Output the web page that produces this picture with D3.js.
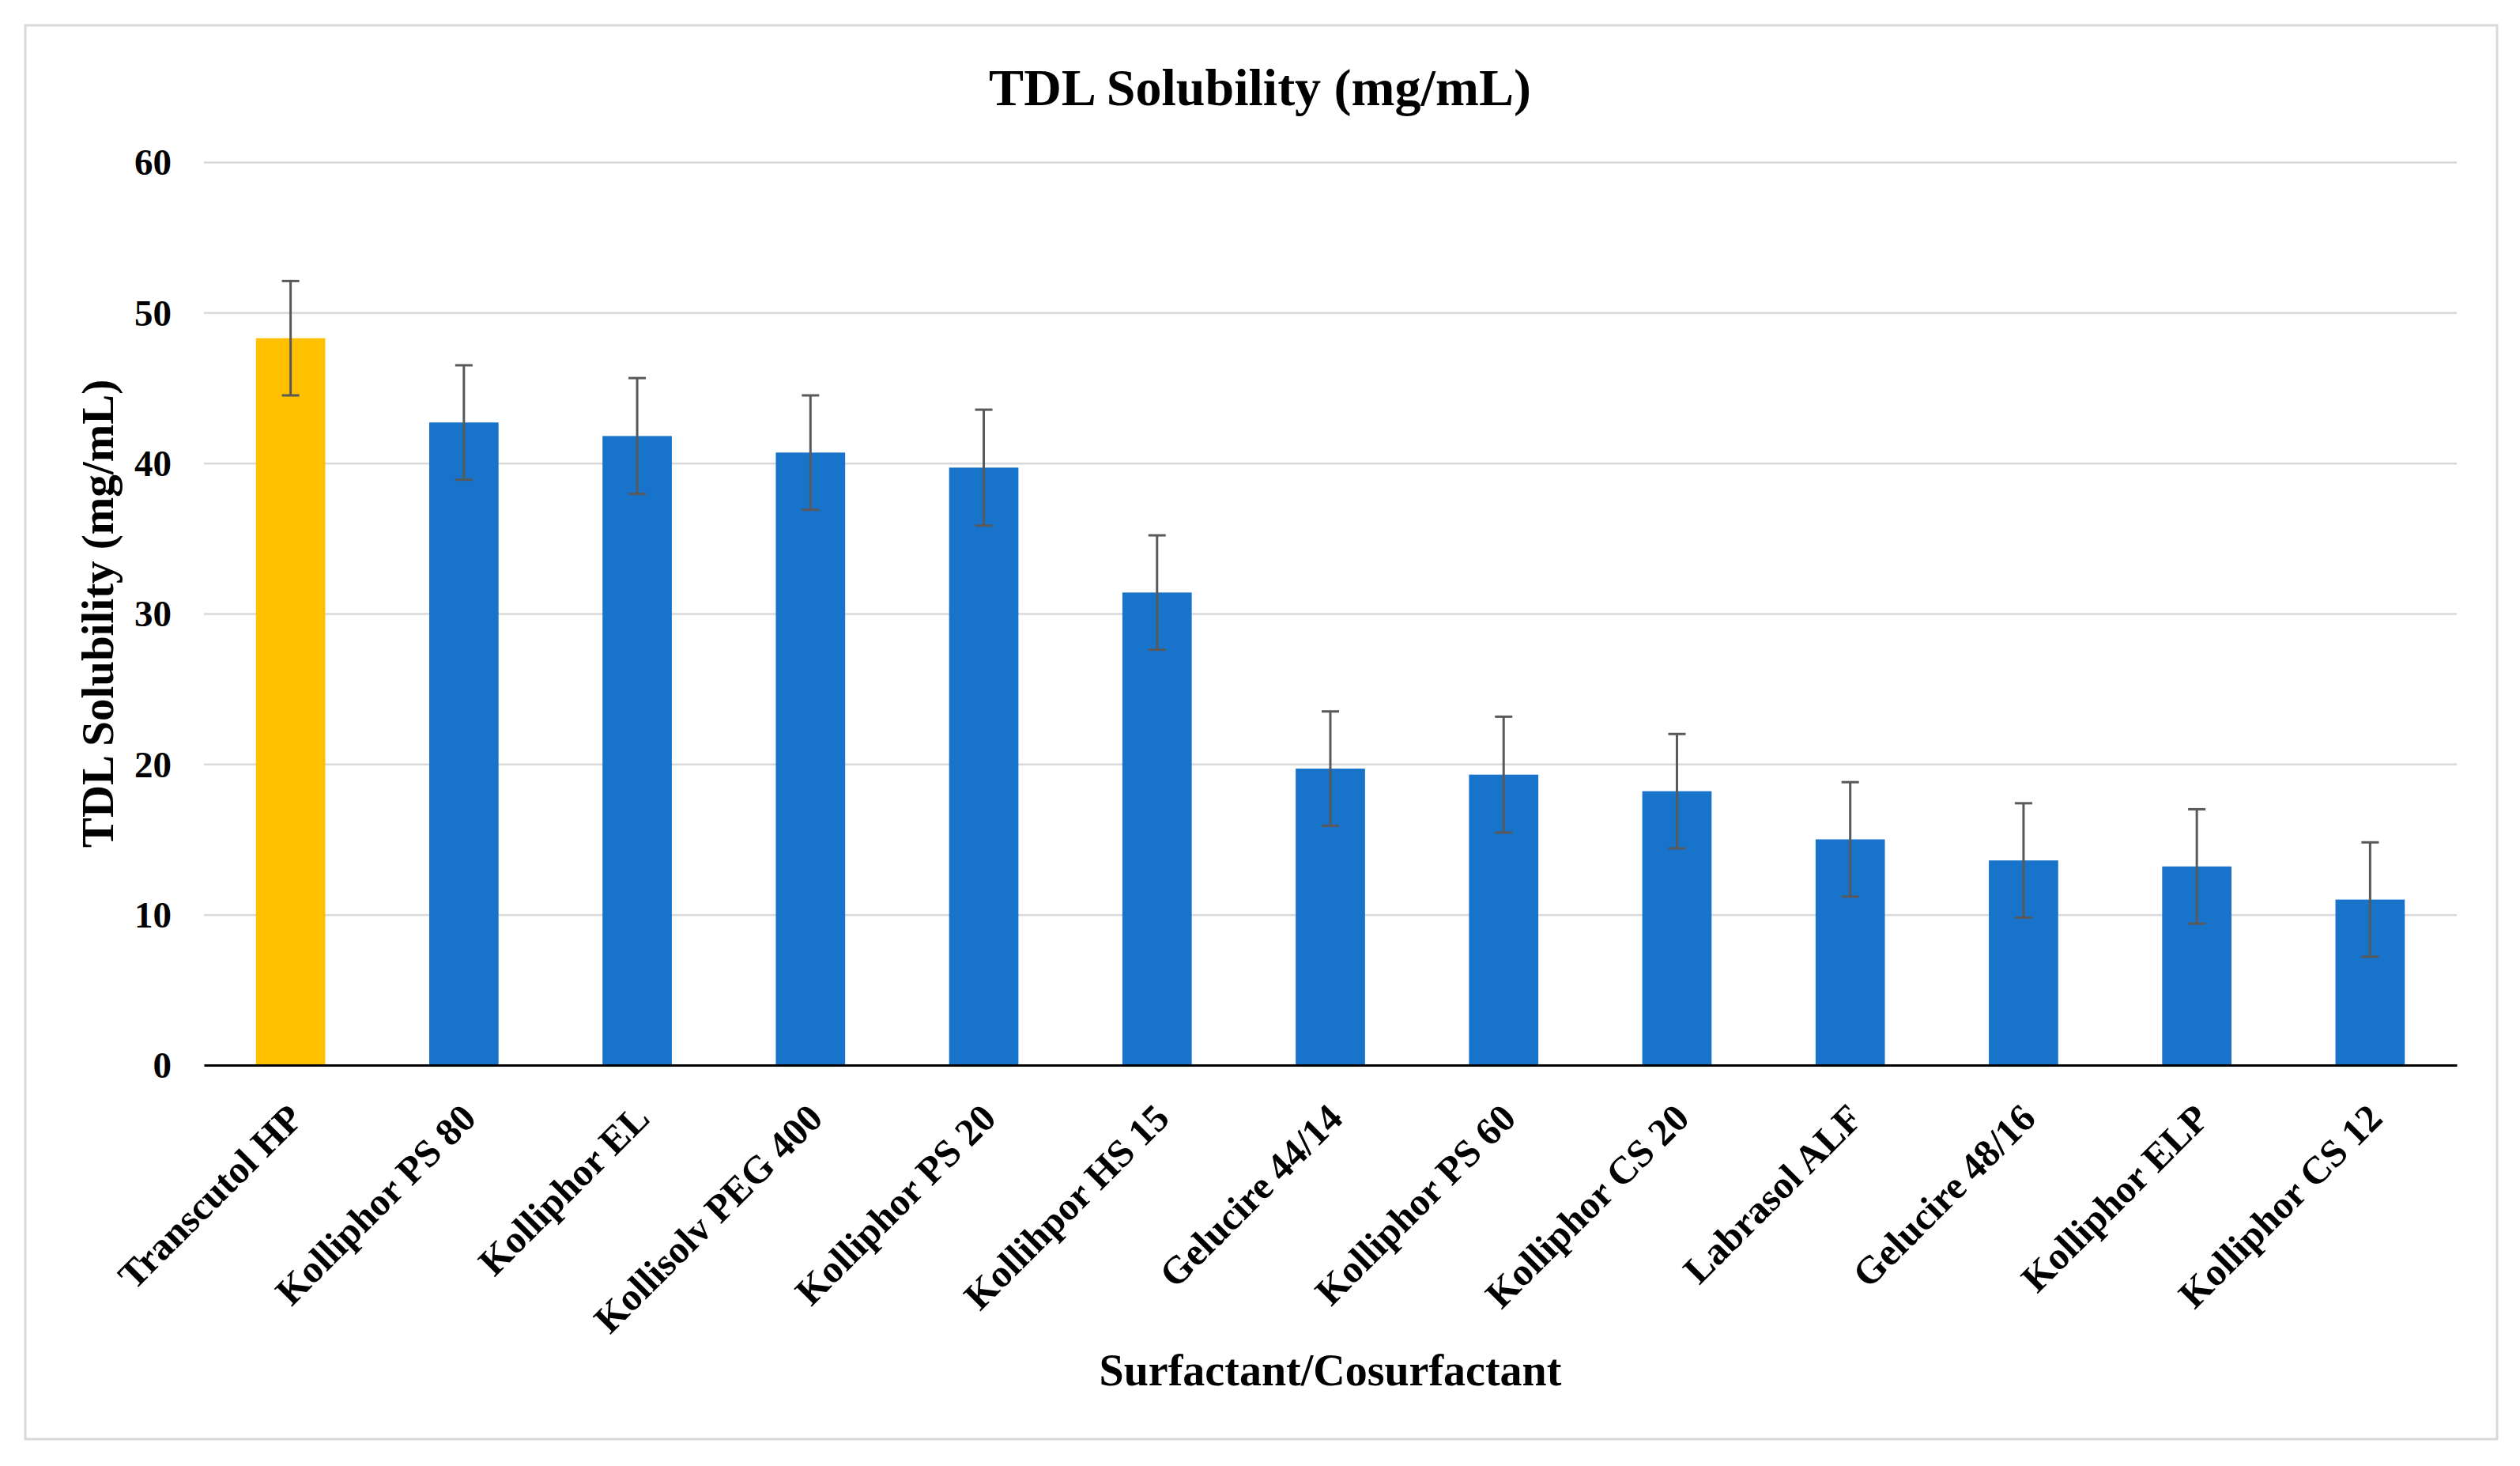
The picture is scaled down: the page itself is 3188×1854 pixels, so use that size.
<!DOCTYPE html>
<html>
<head>
<meta charset="utf-8">
<script src="https://cdn.jsdelivr.net/npm/d3@7"></script>
<style>
  body { margin: 0; background: #fff; }
  text { font-family: "Liberation Serif", "Times New Roman", serif; font-weight: bold; fill: #000; }
</style>
</head>
<body>
<svg id="chart"></svg>
<script>
const categories = [
  "Transcutol HP", "Kolliphor PS 80", "Kolliphor EL", "Kollisolv PEG 400",
  "Kolliphor PS 20", "Kollihpor HS 15", "Gelucire 44/14", "Kolliphor PS 60",
  "Kolliphor CS 20", "Labrasol ALF", "Gelucire 48/16", "Kolliphor ELP", "Kolliphor CS 12"
]
const solubility = [48.3, 42.7, 41.8, 40.7, 39.7, 31.4, 19.7, 19.3, 18.2, 15.0, 13.6, 13.2, 11.0]
const errors = [3.8, 3.8, 3.85, 3.8, 3.85, 3.8, 3.8, 3.85, 3.8, 3.8, 3.8, 3.8, 3.8]
const yTicks = [0, 10, 20, 30, 40, 50, 60]

const width = 3188, height = 1854
const margin = { top: 205, right: 80, bottom: 507, left: 258 }

const svg = d3.select("#chart")
  .attr("width", width)
  .attr("height", height)

// outer frame
svg.append("rect")
  .attr("x", 32).attr("y", 32)
  .attr("width", 3127).attr("height", 1788)
  .attr("fill", "#fff")
  .attr("stroke", "#d9d9d9")
  .attr("stroke-width", 3)

const x = d3.scaleBand()
  .domain(categories)
  .range([margin.left, width - margin.right])
  .paddingInner(0.6)
  .paddingOuter(0.3)

const y = d3.scaleLinear()
  .domain([0, 60])
  .range([height - margin.bottom, margin.top])

// gridlines + y labels
const yAxis = g => g
  .attr("transform", `translate(${margin.left},0)`)
  .call(d3.axisLeft(y).tickValues(yTicks).tickSize(-(width - margin.left - margin.right)).tickPadding(41))
  .call(g => g.select(".domain").remove())
  .call(g => g.selectAll(".tick line").attr("stroke", "#d9d9d9").attr("stroke-width", 2.5))
  .call(g => g.selectAll(".tick text")
    .attr("font-size", 47)
    .attr("font-family", "Liberation Serif, Times New Roman, serif")
    .attr("font-weight", "bold")
    .attr("dy", "0.34em"))

svg.append("g").call(yAxis)

const data = categories.map((c, i) => ({ category: c, value: solubility[i], err: errors[i] }))

svg.append("g")
  .selectAll("rect")
  .data(data)
  .join("rect")
    .attr("x", d => x(d.category))
    .attr("y", d => y(d.value))
    .attr("width", x.bandwidth())
    .attr("height", d => y(0) - y(d.value))
    .attr("fill", (d, i) => i === 0 ? "#ffc000" : "#1874ca")

// error bars
const errG = svg.append("g")
  .attr("stroke", "#595959")
  .attr("stroke-width", 3)
  .selectAll("g")
  .data(data)
  .join("g")
    .attr("transform", d => `translate(${x(d.category) + x.bandwidth() / 2},0)`)

errG.append("line")
  .attr("y1", d => y(d.value + d.err))
  .attr("y2", d => y(d.value - d.err))
errG.append("line")
  .attr("x1", -11).attr("x2", 11)
  .attr("y1", d => y(d.value + d.err))
  .attr("y2", d => y(d.value + d.err))
errG.append("line")
  .attr("x1", -11).attr("x2", 11)
  .attr("y1", d => y(d.value - d.err))
  .attr("y2", d => y(d.value - d.err))

// x axis
const xAxis = g => g
  .attr("transform", `translate(0,${y(0)})`)
  .call(d3.axisBottom(x).tickSize(0).tickSizeOuter(0).tickPadding(0))
  .call(g => g.select(".domain").attr("stroke", "#000").attr("stroke-width", 3))
  .call(g => g.selectAll(".tick text")
    .attr("font-size", 49)
    .attr("font-family", "Liberation Serif, Times New Roman, serif")
    .attr("font-weight", "bold")
    .attr("text-anchor", "end")
    .attr("dy", null)
    .attr("y", 0)
    .attr("transform", "translate(18,70) rotate(-45)"))

svg.append("g").call(xAxis)

// titles
svg.append("text")
  .attr("x", width / 2)
  .attr("y", 133)
  .attr("text-anchor", "middle")
  .attr("font-size", 66)
  .text("TDL Solubility (mg/mL)")

svg.append("text")
  .attr("x", (margin.left + width - margin.right) / 2)
  .attr("y", 1752)
  .attr("text-anchor", "middle")
  .attr("font-size", 56)
  .text("Surfactant/Cosurfactant")

svg.append("text")
  .attr("transform", `translate(143,${(y(0) + y(60)) / 2}) rotate(-90)`)
  .attr("text-anchor", "middle")
  .attr("font-size", 57)
  .text("TDL Solubility (mg/mL)")
</script>
</body>
</html>
